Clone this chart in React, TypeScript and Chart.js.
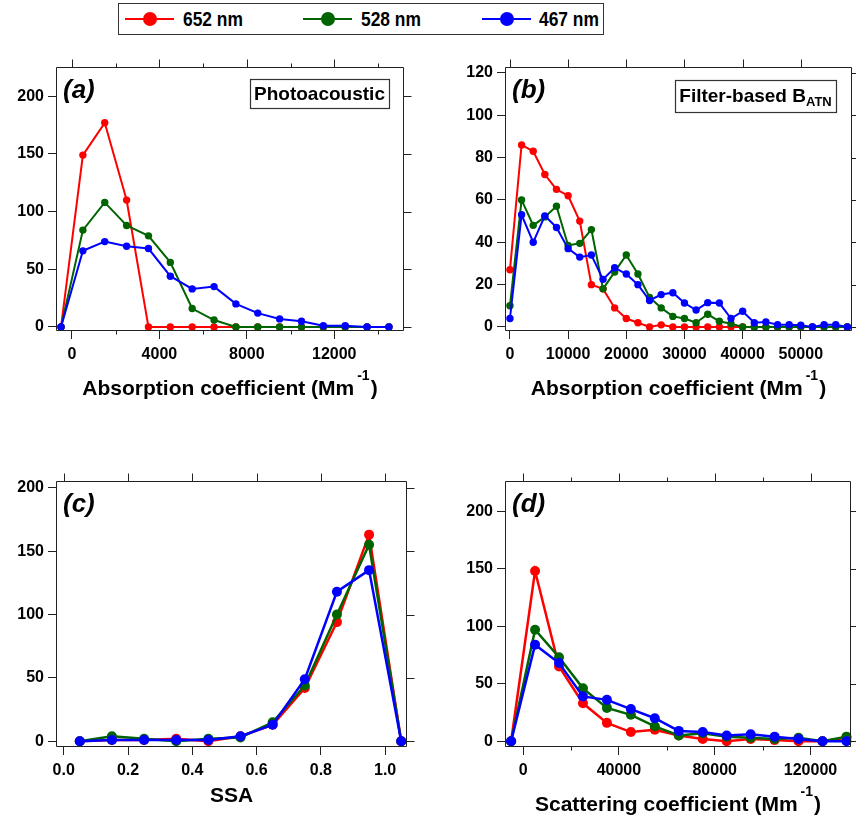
import React, { useEffect, useRef } from "react";
import { Chart, registerables } from "chart.js";

Chart.register(...registerables);
Chart.defaults.font.family = '"Liberation Sans", Arial, Helvetica, sans-serif';

const SERIES_NAMES = ["652 nm", "528 nm", "467 nm"];
const SERIES_COLORS = ["#ff0000", "#006400", "#0000ff"];

// (a) Photoacoustic absorption coefficient (Mm-1) histogram
const absPaBins = [-500, 500, 1500, 2500, 3500, 4500, 5500, 6500, 7500, 8500, 9500, 10500, 11500, 12500, 13500, 14500];
const absPa652 = [0, 149, 177, 110, 0, 0, 0, 0, 0, 0, 0, 0, 0, 0, 0, 0];
const absPa528 = [0, 84, 108, 88, 79, 56, 16, 6, 0, 0, 0, 0, 0, 0, 0, 0];
const absPa467 = [0, 66, 74, 70, 68, 44, 33, 35, 20, 12, 7, 5, 1, 1, 0, 0];
const absPaXTicks = [0, 4000, 8000, 12000];
const absPaXLabels = ["0", "4000", "8000", "12000"];
const absPaXMinor = [2000, 6000, 10000, 14000];

// (b) Filter-based B_ATN absorption coefficient histogram
const absFbBins = [0, 2000, 4000, 6000, 8000, 10000, 12000, 14000, 16000, 18000, 20000, 22000, 24000, 26000, 28000, 30000, 32000, 34000, 36000, 38000, 40000, 42000, 44000, 46000, 48000, 50000, 52000, 54000, 56000, 58000];
const absFb652 = [27, 86, 83, 72, 65, 62, 50, 20, 18, 9, 4, 2, 0, 1, 0, 0, 0, 0, 0, 0, 0, 0, 0, 0, 0, 0, 0, 0, 0, 0];
const absFb528 = [10, 60, 48, 52, 57, 38.5, 39.5, 46, 18, 26, 34, 25, 14, 9, 5, 4, 2, 6, 2.7, 1.5, 0, 0, 0, 0, 0, 0, 0, 0, 0, 0];
const absFb467 = [4, 53, 40, 52.5, 47, 37, 33, 34, 22.5, 28, 25, 20, 12.5, 15.3, 16.2, 11.3, 8, 11.5, 11.3, 4, 7.4, 2, 2.4, 1.1, 1.1, 0.8, 0, 1.1, 1.1, 0];
const absFbXTicks = [0, 10000, 20000, 30000, 40000, 50000];
const absFbXLabels = ["0", "10000", "20000", "30000", "40000", "50000"];
const absFbYTicks = [0, 20, 40, 60, 80, 100, 120];
const absFbYLabels = ["0", "20", "40", "60", "80", "100", "120"];

// (c) SSA histogram
const ssaBins = [0.05, 0.15, 0.25, 0.35, 0.45, 0.55, 0.65, 0.75, 0.85, 0.95, 1.05];
const ssa652 = [0, 1, 1, 2, 0, 4, 13, 42, 94, 163, 0];
const ssa528 = [0, 4, 2, 0, 2, 3, 15, 44, 100, 155, 0];
const ssa467 = [0, 1, 1, 1, 1, 4, 13, 49, 118, 135, 0];
const ssaXTicks = [0, 0.2, 0.4, 0.6, 0.8, 1.0];
const ssaXLabels = ["0.0", "0.2", "0.4", "0.6", "0.8", "1.0"];

// (d) Scattering coefficient histogram
const scatBins = [-5000, 5000, 15000, 25000, 35000, 45000, 55000, 65000, 75000, 85000, 95000, 105000, 115000, 125000, 135000];
const scat652 = [0, 148, 65, 33, 16, 8, 10, 5, 2, 0, 2, 1, 0, 0, 3];
const scat528 = [0, 97, 73, 46, 29, 23, 13, 5, 7, 4, 3, 2, 3, 0, 4];
const scat467 = [0, 84, 68, 39, 36, 28, 20, 9, 8, 5, 6, 4, 2, 0, 0];
const scatXTicks = [0, 40000, 80000, 120000];
const scatXLabels = ["0", "40000", "80000", "120000"];
const scatXMinor = [20000, 60000, 100000];

// shared count axis
const countYTicks = [0, 50, 100, 150, 200];
const countYLabels = ["0", "50", "100", "150", "200"];

const FONT = '"Liberation Sans", Arial, Helvetica, sans-serif';
const FRAME = "#222";

const panels = [
  {
    key: "a", left: 0, top: 40, width: 430, height: 380,
    leftW: 56, rightW: 26, topH: 27, bottomH: 89,
    xMin: -730, xMax: 15190, yMin: -3.5, yMax: 225.4,
    x: absPaBins, series: [absPa652, absPa528, absPa467],
    xTicks: absPaXTicks, xLabels: absPaXLabels, xMinor: absPaXMinor,
    yTicks: countYTicks, yLabels: countYLabels,
    radius: 3.7, lineWidth: 2,
    label: "(a)",
    title: ["Absorption coefficient (Mm", "-1", ")"], titleDY: 64,
    box: { main: "Photoacoustic", sub: "", w: 139, h: 29, dxRight: 15, dy: 12, base: 21 },
  },
  {
    key: "b", left: 430, top: 40, width: 426, height: 380,
    leftW: 75, rightW: 2, topH: 27, bottomH: 89,
    xMin: -850, xMax: 58800, yMin: -1.9, yMax: 122.8,
    x: absFbBins, series: [absFb652, absFb528, absFb467],
    xTicks: absFbXTicks, xLabels: absFbXLabels, xMinor: null,
    yTicks: absFbYTicks, yLabels: absFbYLabels,
    radius: 3.7, lineWidth: 2,
    label: "(b)",
    title: ["Absorption coefficient (Mm", "-1", ")"], titleDY: 64,
    box: { main: "Filter-based B", sub: "ATN", w: 161, h: 32, dxRight: 16, dy: 13, base: 22 },
  },
  {
    key: "c", left: 0, top: 440, width: 430, height: 382,
    leftW: 56, rightW: 23, topH: 41, bottomH: 75,
    xMin: -0.024, xMax: 1.068, yMin: -4.5, yMax: 205.3,
    x: ssaBins, series: [ssa652, ssa528, ssa467],
    xTicks: ssaXTicks, xLabels: ssaXLabels, xMinor: null,
    yTicks: countYTicks, yLabels: countYLabels,
    radius: 5, lineWidth: 2.5,
    label: "(c)",
    title: ["SSA", "", ""], titleDY: 55,
    box: null,
  },
  {
    key: "d", left: 430, top: 440, width: 426, height: 382,
    leftW: 75, rightW: 1, topH: 41, bottomH: 75,
    xMin: -7550, xMax: 136900, yMin: -5, yMax: 226.3,
    x: scatBins, series: [scat652, scat528, scat467],
    xTicks: scatXTicks, xLabels: scatXLabels, xMinor: scatXMinor,
    yTicks: countYTicks, yLabels: countYLabels,
    radius: 5, lineWidth: 2.5,
    label: "(d)",
    title: ["Scattering coefficient (Mm", "-1", ")"], titleDY: 64,
    box: null,
  },
];

function annotPlugin(p: any) {
  return {
    id: "annot_" + p.key,
    afterDraw(chart: any) {
      const { ctx, chartArea: a } = chart;
      const xs = chart.scales.x;
      const ys = chart.scales.y;
      ctx.save();
      ctx.strokeStyle = FRAME;
      ctx.lineWidth = 1;
      const L = Math.round(a.left) + 0.5;
      const R = Math.round(a.right) - 0.5;
      const T = Math.round(a.top) + 0.5;
      const B = Math.round(a.bottom) - 0.5;
      ctx.beginPath();
      // frame
      ctx.rect(L, T, R - L, B - T);
      // top major ticks
      for (const v of p.xTicks) {
        const px = Math.round(xs.getPixelForValue(v)) + 0.5;
        ctx.moveTo(px, T);
        ctx.lineTo(px, T - 8);
      }
      // right major ticks
      for (const v of p.yTicks) {
        const py = Math.round(ys.getPixelForValue(v)) + 0.5;
        ctx.moveTo(R, py);
        ctx.lineTo(R + 8, py);
      }
      // minor ticks top & bottom
      if (p.xMinor) {
        for (const v of p.xMinor) {
          const px = Math.round(xs.getPixelForValue(v)) + 0.5;
          if (px < a.left || px > a.right) continue;
          ctx.moveTo(px, B);
          ctx.lineTo(px, B + 4);
          ctx.moveTo(px, T);
          ctx.lineTo(px, T - 4);
        }
      }
      ctx.stroke();

      // panel label
      ctx.fillStyle = "#000";
      ctx.textAlign = "left";
      ctx.textBaseline = "alphabetic";
      ctx.font = `italic bold 26px ${FONT}`;
      ctx.fillText(p.label, a.left + 7, a.top + 31);

      // annotation box
      if (p.box) {
        const b = p.box;
        const bx = Math.round(a.right - b.dxRight - b.w);
        const by = Math.round(a.top + b.dy);
        ctx.fillStyle = "#fff";
        ctx.fillRect(bx, by, b.w, b.h);
        ctx.strokeStyle = "#333";
        ctx.lineWidth = 1.2;
        ctx.strokeRect(bx + 0.5, by + 0.5, b.w, b.h);
        ctx.font = `bold 19px ${FONT}`;
        const wMain = ctx.measureText(b.main).width;
        ctx.font = `bold 13px ${FONT}`;
        const wSub = b.sub ? ctx.measureText(b.sub).width : 0;
        const x0 = bx + (b.w - wMain - wSub) / 2;
        ctx.fillStyle = "#000";
        ctx.font = `bold 19px ${FONT}`;
        ctx.fillText(b.main, x0, by + b.base);
        if (b.sub) {
          ctx.font = `bold 13px ${FONT}`;
          ctx.fillText(b.sub, x0 + wMain, by + b.base + 4);
        }
      }

      // axis title with superscript
      const [main, sup, end] = p.title;
      ctx.font = `bold 21px ${FONT}`;
      const w1 = ctx.measureText(main).width;
      const w3 = end ? ctx.measureText(end).width : 0;
      ctx.font = `bold 14px ${FONT}`;
      const w2 = sup ? ctx.measureText(sup).width + 4 : 0;
      const total = w1 + w2 + w3;
      const x0 = (a.left + a.right) / 2 - total / 2;
      const base = a.bottom + p.titleDY;
      ctx.fillStyle = "#000";
      ctx.font = `bold 21px ${FONT}`;
      ctx.fillText(main, x0, base);
      if (sup) {
        ctx.font = `bold 14px ${FONT}`;
        ctx.fillText(sup, x0 + w1 + 3, base - 15);
      }
      if (end) {
        ctx.font = `bold 21px ${FONT}`;
        ctx.fillText(end, x0 + w1 + w2, base);
      }
      ctx.restore();
    },
  };
}

function axis(min: number, max: number, position: string, ticks: number[], labels: string[], fit: (s: any) => void) {
  const horizontal = position === "bottom";
  return {
    type: "linear",
    position,
    min,
    max,
    bounds: "data",
    border: { display: false },
    grid: { display: true, drawOnChartArea: false, drawTicks: true, tickLength: 8, tickColor: FRAME, tickWidth: 1 },
    afterBuildTicks: (s: any) => {
      s.ticks = ticks.map((v) => ({ value: v }));
    },
    afterFit: fit,
    ticks: {
      display: true,
      color: "#000",
      font: { size: 16, weight: "bold", family: FONT },
      padding: horizontal ? 6 : 4,
      maxRotation: 0,
      minRotation: 0,
      autoSkip: false,
      callback: (_v: any, i: number) => labels[i],
    },
  };
}

function makeConfig(p: any) {
  const datasets = p.series.map((ys: number[], i: number) => ({
    label: SERIES_NAMES[i],
    data: p.x.map((x: number, j: number) => ({ x, y: ys[j] })),
    borderColor: SERIES_COLORS[i],
    backgroundColor: SERIES_COLORS[i],
    pointBackgroundColor: SERIES_COLORS[i],
    pointBorderColor: SERIES_COLORS[i],
    pointRadius: p.radius,
    pointBorderWidth: 0,
    borderWidth: p.lineWidth,
    tension: 0,
    order: 3 - i,
    clip: false,
    xAxisID: "x",
    yAxisID: "y",
  }));
  return {
    type: "line",
    data: { datasets },
    options: {
      responsive: false,
      maintainAspectRatio: false,
      animation: false,
      devicePixelRatio: 1,
      events: [],
      layout: { padding: { top: p.topH, right: p.rightW, left: 0, bottom: 0 } },
      plugins: { legend: { display: false }, tooltip: { enabled: false }, title: { display: false } },
      scales: {
        x: axis(p.xMin, p.xMax, "bottom", p.xTicks, p.xLabels, (s: any) => { s.height = p.bottomH; }),
        y: axis(p.yMin, p.yMax, "left", p.yTicks, p.yLabels, (s: any) => { s.width = p.leftW; }),
      },
    },
    plugins: [annotPlugin(p)],
  };
}

function Panel({ p }: { p: any }) {
  const ref = useRef<HTMLCanvasElement | null>(null);
  useEffect(() => {
    const chart = new Chart(ref.current as HTMLCanvasElement, makeConfig(p) as any);
    return () => chart.destroy();
  }, [p]);
  return (
    <canvas
      ref={ref}
      width={p.width}
      height={p.height}
      style={{ position: "absolute", left: p.left, top: p.top, width: p.width, height: p.height }}
    />
  );
}

const legendSymbolLeft = [6, 184, 363];
const legendTextLeft = [64, 242, 420];

function Legend() {
  return (
    <div
      style={{
        position: "absolute",
        left: 118,
        top: 3,
        width: 486,
        height: 32,
        border: "1px solid #333",
        boxSizing: "border-box",
        background: "#fff",
      }}
    >
      {SERIES_NAMES.map((name, i) => (
        <React.Fragment key={name}>
          <div style={{ position: "absolute", left: legendSymbolLeft[i], top: 14, width: 49, height: 2, background: SERIES_COLORS[i] }} />
          <div
            style={{
              position: "absolute",
              left: legendSymbolLeft[i] + 17.5,
              top: 8,
              width: 14,
              height: 14,
              borderRadius: 7,
              background: SERIES_COLORS[i],
            }}
          />
          <div
            style={{
              position: "absolute",
              left: legendTextLeft[i],
              top: 0,
              height: 30,
              lineHeight: "30px",
              fontFamily: FONT,
              fontWeight: "bold",
              fontSize: 20,
              color: "#000",
              whiteSpace: "nowrap",
              transform: "scaleX(0.87)",
              transformOrigin: "left center",
            }}
          >
            {name}
          </div>
        </React.Fragment>
      ))}
    </div>
  );
}

export default function App() {
  return (
    <div style={{ position: "absolute", left: 0, top: 0, width: 856, height: 822, background: "#fff", overflow: "hidden" }}>
      <Legend />
      {panels.map((p) => (
        <Panel key={p.key} p={p} />
      ))}
    </div>
  );
}
